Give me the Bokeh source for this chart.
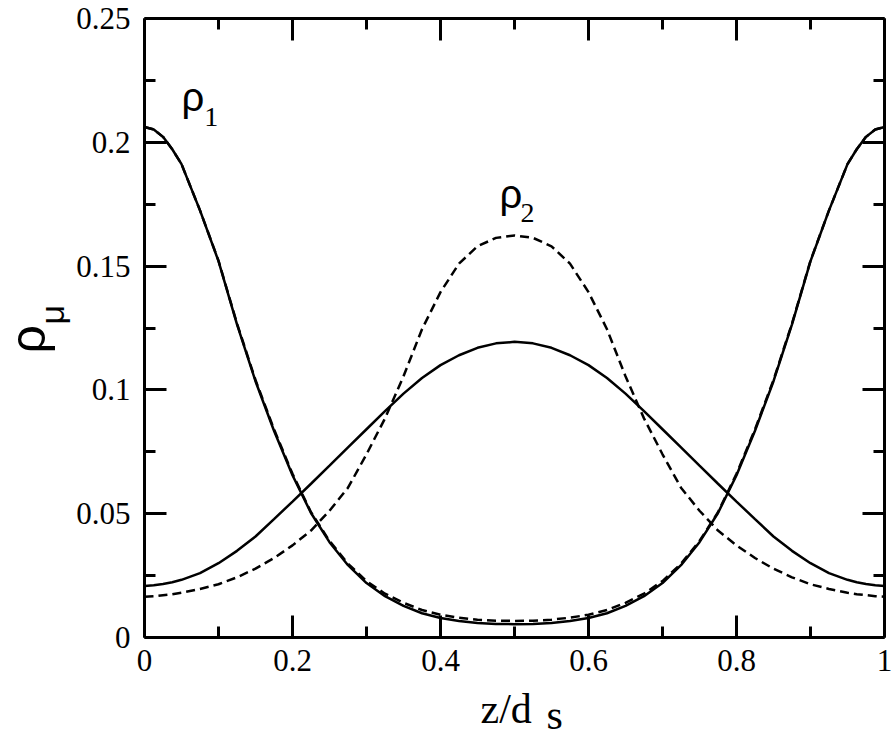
from bokeh.plotting import figure
from bokeh.layouts import row, column
from bokeh.models import FixedTicker, LinearAxis, Label, CustomJSTickFormatter, Range1d
from bokeh.embed import file_html
from bokeh.resources import INLINE

# ---------------- data ----------------
z = [0.0, 0.0125, 0.025, 0.0375, 0.05, 0.075, 0.1, 0.125, 0.15, 0.175, 0.2, 0.225,
     0.25, 0.275, 0.3, 0.325, 0.35, 0.375, 0.4, 0.425, 0.45, 0.475,
     0.5, 0.525, 0.55, 0.575, 0.6, 0.625, 0.65, 0.675, 0.7, 0.725,
     0.75, 0.775, 0.8, 0.825, 0.85, 0.875, 0.9, 0.925, 0.95, 0.9625, 0.975, 0.9875, 1.0]

rho1_solid = [0.2062, 0.2052, 0.2022, 0.1972, 0.1912, 0.1725, 0.1520, 0.1265, 0.1035, 0.0835, 0.0655, 0.0503,
              0.0385, 0.0292, 0.0220, 0.0167, 0.0128, 0.0098, 0.0079, 0.0067, 0.0059, 0.0055,
              0.0054, 0.0055, 0.0059, 0.0067, 0.0079, 0.0098, 0.0128, 0.0167, 0.0220, 0.0292,
              0.0385, 0.0503, 0.0655, 0.0835, 0.1035, 0.1265, 0.1520, 0.1725, 0.1912, 0.1972, 0.2022, 0.2052, 0.2062]

rho1_dashed = [0.2062, 0.2052, 0.2022, 0.1972, 0.1912, 0.1725, 0.1522, 0.1268, 0.1040, 0.0841, 0.0661, 0.0506,
               0.0390, 0.0298, 0.0228, 0.0177, 0.0140, 0.0111, 0.0092, 0.0080, 0.0072, 0.0068,
               0.0067, 0.0068, 0.0072, 0.0080, 0.0092, 0.0111, 0.0140, 0.0177, 0.0228, 0.0298,
               0.0390, 0.0506, 0.0661, 0.0841, 0.1040, 0.1268, 0.1522, 0.1725, 0.1912, 0.1972, 0.2022, 0.2052, 0.2062]

rho2_solid = [0.0208, 0.0211, 0.0216, 0.0223, 0.0233, 0.0260, 0.0300, 0.0350, 0.0408, 0.0478, 0.0549, 0.0621,
              0.0694, 0.0768, 0.0841, 0.0914, 0.0985, 0.1048, 0.1100, 0.1140, 0.1170, 0.1188,
              0.1194, 0.1188, 0.1170, 0.1140, 0.1100, 0.1048, 0.0985, 0.0914, 0.0841, 0.0768,
              0.0694, 0.0621, 0.0549, 0.0478, 0.0408, 0.0350, 0.0300, 0.0260, 0.0233, 0.0223, 0.0216, 0.0211, 0.0208]

rho2_dashed = [0.0165, 0.0167, 0.0171, 0.0175, 0.0181, 0.0196, 0.0215, 0.0243, 0.0278, 0.0321, 0.0372, 0.0432,
               0.0512, 0.0605, 0.0740, 0.0885, 0.1055, 0.1245, 0.1395, 0.1510, 0.1580, 0.1614,
               0.1624, 0.1614, 0.1580, 0.1510, 0.1395, 0.1245, 0.1055, 0.0885, 0.0740, 0.0605,
               0.0512, 0.0432, 0.0372, 0.0321, 0.0278, 0.0243, 0.0215, 0.0196, 0.0181, 0.0175, 0.0171, 0.0167, 0.0165]

x_ticks = [0, 0.2, 0.4, 0.6, 0.8, 1]
x_tick_labels = ["0", "0.2", "0.4", "0.6", "0.8", "1"]
x_minor_ticks = [0.1, 0.3, 0.5, 0.7, 0.9]
y_ticks = [0, 0.05, 0.1, 0.15, 0.2, 0.25]
y_tick_labels = ["0", "0.05", "0.1", "0.15", "0.2", "0.25"]
y_minor_ticks = [0.025, 0.075, 0.125, 0.175, 0.225]

SERIF = "Liberation Serif"
SANS = "Liberation Sans"

# ---------------- layout sizes ----------------
TOTAL_W = 892
YLAB_W = 73
MAIN_H = 683
XLAB_H = 59

# ---------------- main figure ----------------
p = figure(width=TOTAL_W - YLAB_W, height=MAIN_H, output_backend="svg", toolbar_location=None,
           x_range=Range1d(0, 1), y_range=Range1d(0, 0.25),
           x_axis_location=None, y_axis_location=None, frame_align=False,
           min_border_left=69, min_border_right=8, min_border_top=18, min_border_bottom=46)
p.outline_line_color = None
p.xgrid.visible = False
p.ygrid.visible = False
p.background_fill_color = "white"
p.border_fill_color = "white"

FMT_CODE = """
for (let i = 0; i < vals.length; i++) {
  if (Math.abs(vals[i] - tick) < 1e-9) { return labs[i]; }
}
return "";
"""


def style_axis(ax, show_labels):
    ax.axis_line_width = 3
    ax.axis_line_color = "black"
    ax.major_tick_line_width = 3
    ax.minor_tick_line_width = 3
    ax.major_tick_line_color = "black"
    ax.minor_tick_line_color = "black"
    ax.major_tick_in = 22
    ax.major_tick_out = 0
    ax.minor_tick_in = 11
    ax.minor_tick_out = 0
    ax.major_label_text_font = SERIF
    if show_labels:
        ax.major_label_text_font_size = "31px"
        ax.major_label_text_color = "black"
    else:
        ax.major_label_text_font_size = "1px"
        ax.major_label_text_color = None
        ax.major_label_standoff = 0


xt = FixedTicker(ticks=x_ticks, minor_ticks=x_minor_ticks)
yt = FixedTicker(ticks=y_ticks, minor_ticks=y_minor_ticks)
xfmt = CustomJSTickFormatter(args=dict(vals=x_ticks, labs=x_tick_labels), code=FMT_CODE)
yfmt = CustomJSTickFormatter(args=dict(vals=y_ticks, labs=y_tick_labels), code=FMT_CODE)

bottom = LinearAxis(ticker=xt, formatter=xfmt)
style_axis(bottom, True)
bottom.major_label_standoff = 12
top = LinearAxis(ticker=xt, formatter=xfmt)
style_axis(top, False)
left = LinearAxis(ticker=yt, formatter=yfmt)
style_axis(left, True)
left.major_label_standoff = 14
right = LinearAxis(ticker=yt, formatter=yfmt)
style_axis(right, False)

p.add_layout(bottom, "below")
p.add_layout(top, "above")
p.add_layout(left, "left")
p.add_layout(right, "right")

# ---------------- curves ----------------
p.line(z, rho1_solid, line_color="black", line_width=2.5)
p.line(z, rho1_dashed, line_color="black", line_width=2.5, line_dash="9 5")
p.line(z, rho2_solid, line_color="black", line_width=2.5)
p.line(z, rho2_dashed, line_color="black", line_width=2.5, line_dash="9 5")


def lab(fig, x, y, text, font, size, units="screen", angle=0.0):
    fig.add_layout(Label(x=x, y=y, x_units=units, y_units=units, text=text,
                         text_font=font, text_font_size=size, text_color="black",
                         text_align="left", text_baseline="alphabetic", angle=angle))


# curve labels (data coordinates)
lab(p, 0.0499, 0.2182, "ρ", SANS, "40px", units="data")
lab(p, 0.0809, 0.2102, "1", SERIF, "28px", units="data")
lab(p, 0.4798, 0.1791, "ρ", SANS, "40px", units="data")
lab(p, 0.5081, 0.1715, "2", SERIF, "28px", units="data")


def blank(width, height):
    f = figure(width=width, height=height, output_backend="svg", toolbar_location=None,
               title=None, x_range=Range1d(0, 1), y_range=Range1d(0, 1), frame_align=False,
               x_axis_location=None, y_axis_location=None, min_border=0)
    f.outline_line_color = None
    f.xgrid.visible = False
    f.ygrid.visible = False
    f.background_fill_color = "white"
    f.border_fill_color = "white"
    return f


# y-axis label: rho with subscript mu, reading upwards
ylab = blank(YLAB_W, MAIN_H)
lab(ylab, 27.5, 330, "ρ", SANS, "50px", angle=1.5707963)
lab(ylab, 51.5, 359, "μ", SANS, "34px", angle=1.5707963)

# x-axis label: z/d with subscript s
xlab = blank(TOTAL_W, XLAB_H)
lab(xlab, 480, 34, "z/d", SERIF, "42px")
lab(xlab, 546, 28, "s", SERIF, "42px")

layout = column(row(ylab, p), xlab)

open("out.html", "w").write(file_html(layout, INLINE))
